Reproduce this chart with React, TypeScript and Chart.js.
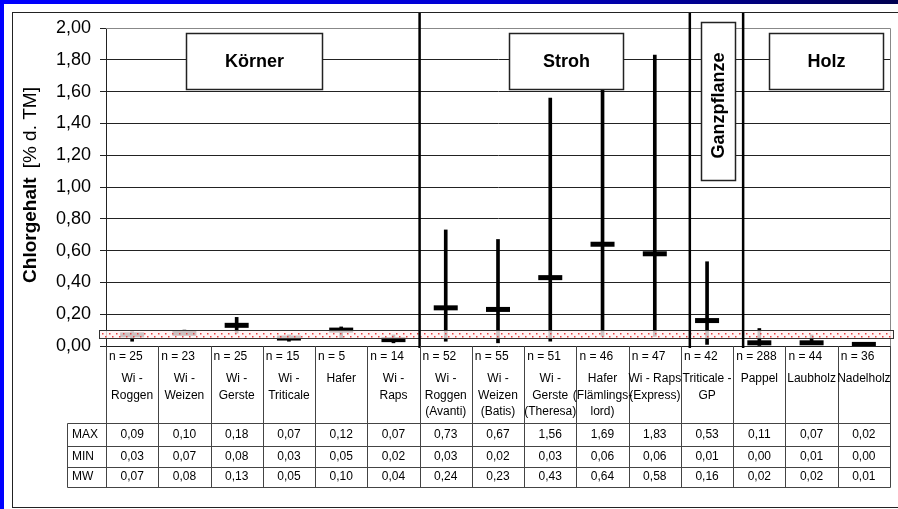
import React, { useEffect, useRef } from "react";
import { Chart, registerables } from "chart.js";

Chart.register(...registerables);

// ---------- data ----------
const categoryNames: string[][] = [
  ["Wi -", "Roggen"],
  ["Wi -", "Weizen"],
  ["Wi -", "Gerste"],
  ["Wi -", "Triticale"],
  ["Hafer"],
  ["Wi -", "Raps"],
  ["Wi -", "Roggen", "(Avanti)"],
  ["Wi -", "Weizen", "(Batis)"],
  ["Wi -", "Gerste", "(Theresa)"],
  ["Hafer", "(Flämlings-", "lord)"],
  ["Wi - Raps", "(Express)"],
  ["Triticale -", "GP"],
  ["Pappel"],
  ["Laubholz"],
  ["Nadelholz"],
];
const nValues = [25, 23, 25, 15, 5, 14, 52, 55, 51, 46, 47, 42, 288, 44, 36];
const maxValues = [0.09, 0.1, 0.18, 0.07, 0.12, 0.07, 0.73, 0.67, 1.56, 1.69, 1.83, 0.53, 0.11, 0.07, 0.02];
const minValues = [0.03, 0.07, 0.08, 0.03, 0.05, 0.02, 0.03, 0.02, 0.03, 0.06, 0.06, 0.01, 0.0, 0.01, 0.0];
const meanValues = [0.07, 0.08, 0.13, 0.05, 0.1, 0.04, 0.24, 0.23, 0.43, 0.64, 0.58, 0.16, 0.02, 0.02, 0.01];
const rowLabels = ["MAX", "MIN", "MW"];
const yMin = 0;
const yMax = 2;
const yStep = 0.2;
const bandLow = 0.05;
const bandHigh = 0.1;

// group boxes in data units (x = category index, y = value)
const groupLabels = ["Körner", "Stroh", "Ganzpflanze", "Holz"];
const groupX0 = [1.03, 7.21, 10.88, 12.18];
const groupX1 = [3.63, 9.39, 11.53, 14.36];
const groupY0 = [1.614, 1.614, 1.043, 1.614];
const groupY1 = [1.97, 1.97, 2.04, 1.97];
const groupVertical = [false, false, true, false];
const separatorsAt = [5.5, 10.67, 11.69];

const FONT = '"Liberation Sans", Arial, Helvetica, sans-serif';
const fmt = (v: number) => v.toFixed(2).replace(".", ",");

const decorPlugin = {
  id: "decor",
  beforeDraw(chart: any) {
    const ctx = chart.ctx as CanvasRenderingContext2D;
    const W = chart.width, H = chart.height;
    ctx.save();
    ctx.fillStyle = "#ffffff";
    ctx.fillRect(0, 0, W, H);
    const g = ctx.createLinearGradient(0, 0, W, 0);
    g.addColorStop(0, "#0000ff");
    g.addColorStop(0.55, "#0000d0");
    g.addColorStop(1, "#000050");
    ctx.fillStyle = g;
    ctx.fillRect(0, 0, W, 4);
    ctx.fillStyle = "#0000ff";
    ctx.fillRect(0, 0, 4, H);
    ctx.strokeStyle = "#222";
    ctx.lineWidth = 1;
    ctx.strokeRect(12.5, 12.5, W + 10, H - 14);
    ctx.restore();
  },
  afterDatasetsDraw(chart: any) {
    const ctx = chart.ctx as CanvasRenderingContext2D;
    const xs = chart.scales.x, ys = chart.scales.y;
    const area = chart.chartArea;
    ctx.save();

    // plot border top/right (gray)
    ctx.strokeStyle = "#888";
    ctx.lineWidth = 1;
    ctx.beginPath();
    ctx.moveTo(area.left, Math.round(area.top) + 0.5);
    ctx.lineTo(Math.round(area.right) + 0.5, Math.round(area.top) + 0.5);
    ctx.lineTo(Math.round(area.right) + 0.5, Math.round(area.bottom));
    ctx.stroke();

    // dotted band
    const by0 = Math.round(ys.getPixelForValue(bandHigh)) + 0.5;
    const by1 = Math.round(ys.getPixelForValue(bandLow)) + 0.5;
    const bx0 = Math.round(area.left) - 7 + 0.5;
    const bx1 = Math.round(area.right) + 3 + 0.5;
    ctx.fillStyle = "rgba(255,242,242,0.8)";
    ctx.fillRect(bx0, by0, bx1 - bx0, by1 - by0);
    ctx.fillStyle = "#e84040";
    let row = 0;
    for (let yy = by0 + 2; yy < by1 - 1.5; yy += 3) {
      for (let xx = bx0 + 2 + (row % 2) * 3.5; xx < bx1 - 1; xx += 7) {
        ctx.fillRect(Math.round(xx), Math.round(yy), 1.5, 1.5);
      }
      row++;
    }
    ctx.strokeStyle = "#333";
    ctx.lineWidth = 1;
    ctx.strokeRect(bx0, by0, bx1 - bx0, by1 - by0);

    // thick separators
    ctx.strokeStyle = "#000";
    ctx.lineWidth = 2.5;
    for (const s of separatorsAt) {
      const px = xs.getPixelForValue(s);
      ctx.beginPath();
      ctx.moveTo(px, 13);
      ctx.lineTo(px, area.bottom + 2);
      ctx.stroke();
    }

    // group boxes
    for (let i = 0; i < groupLabels.length; i++) {
      const x0 = Math.round(xs.getPixelForValue(groupX0[i])) + 0.5;
      const x1 = Math.round(xs.getPixelForValue(groupX1[i])) + 0.5;
      const y0 = Math.round(ys.getPixelForValue(groupY1[i])) + 0.5;
      const y1 = Math.round(ys.getPixelForValue(groupY0[i])) + 0.5;
      ctx.fillStyle = "#fff";
      ctx.fillRect(x0, y0, x1 - x0, y1 - y0);
      ctx.strokeStyle = "#222";
      ctx.lineWidth = 1.5;
      ctx.strokeRect(x0, y0, x1 - x0, y1 - y0);
      ctx.fillStyle = "#000";
      ctx.font = `bold 18px ${FONT}`;
      ctx.textAlign = "center";
      ctx.textBaseline = "middle";
      const cx = (x0 + x1) / 2, cy = (y0 + y1) / 2;
      if (groupVertical[i]) {
        ctx.save();
        ctx.translate(cx + 1, cy + 4);
        ctx.rotate(-Math.PI / 2);
        ctx.fillText(groupLabels[i], 0, 0);
        ctx.restore();
      } else {
        ctx.fillText(groupLabels[i], cx, cy + 1);
      }
    }
    ctx.restore();
  },
  afterDraw(chart: any) {
    const ctx = chart.ctx as CanvasRenderingContext2D;
    const xs = chart.scales.x, ys = chart.scales.y;
    ctx.save();

    // y title
    ctx.translate(31, 185);
    ctx.rotate(-Math.PI / 2);
    ctx.textBaseline = "middle";
    ctx.textAlign = "left";
    ctx.fillStyle = "#000";
    const t1 = "Chlorgehalt";
    const t2 = "[% d. TM]";
    ctx.font = `bold 19px ${FONT}`;
    const w1 = ctx.measureText(t1).width;
    ctx.font = `19px ${FONT}`;
    const w2 = ctx.measureText(t2).width;
    const gap = 9;
    const start = -(w1 + gap + w2) / 2;
    ctx.font = `bold 19px ${FONT}`;
    ctx.fillText(t1, start, 0);
    ctx.font = `19px ${FONT}`;
    ctx.fillText(t2, start + w1 + gap, 0);
    ctx.setTransform(1, 0, 0, 1, 0, 0);

    // table
    const top = Math.round(ys.getPixelForValue(0));
    const leftLab = 67;
    const right = Math.round(xs.getPixelForValue(14.5)) + 0.5;
    const hLines = [top + 77, top + 100, top + 121, top + 141];
    ctx.strokeStyle = "#444";
    ctx.lineWidth = 1;
    ctx.beginPath();
    for (const hy of hLines) {
      ctx.moveTo(leftLab + 0.5, hy + 0.5);
      ctx.lineTo(right, hy + 0.5);
    }
    ctx.moveTo(leftLab + 0.5, hLines[0] + 0.5);
    ctx.lineTo(leftLab + 0.5, hLines[3] + 0.5);
    for (let i = 0; i <= categoryNames.length; i++) {
      const bx = Math.round(xs.getPixelForValue(i - 0.5)) + 0.5;
      ctx.moveTo(bx, top);
      ctx.lineTo(bx, hLines[3] + 0.5);
    }
    ctx.stroke();

    ctx.fillStyle = "#000";
    ctx.font = `12px ${FONT}`;
    ctx.textBaseline = "middle";
    const nameYs = [top + 33, top + 50, top + 66];
    const valRows = [maxValues, minValues, meanValues];
    const valYs = [top + 89, top + 111, top + 131];
    for (let i = 0; i < categoryNames.length; i++) {
      const bl = xs.getPixelForValue(i - 0.5);
      const cx = xs.getPixelForValue(i);
      ctx.textAlign = "left";
      ctx.fillText(`n = ${nValues[i]}`, bl + 3, top + 11);
      ctx.textAlign = "center";
      categoryNames[i].forEach((line, k) => ctx.fillText(line, cx, nameYs[k]));
      valRows.forEach((arr, r) => ctx.fillText(fmt(arr[i]), cx, valYs[r]));
    }
    ctx.textAlign = "left";
    rowLabels.forEach((lab, r) => ctx.fillText(lab, leftLab + 5, valYs[r]));
    ctx.restore();
  },
};

export default function App() {
  const ref = useRef<HTMLCanvasElement | null>(null);
  useEffect(() => {
    if (!ref.current) return;
    const chart = new Chart(ref.current, {
      type: "bar",
      data: {
        datasets: [
          {
            type: "bar",
            label: "Min-Max",
            data: minValues.map((mn, i) => ({ x: i, y: [mn, maxValues[i]] })) as any,
            backgroundColor: "#000",
            borderWidth: 0,
            barThickness: 3,
            grouped: false,
            order: 2,
          } as any,
          {
            type: "scatter",
            label: "MW",
            data: meanValues.map((v, i) => ({ x: i, y: v })),
            pointStyle: "line",
            pointRadius: 12,
            pointBorderWidth: 5,
            borderColor: "#000",
            backgroundColor: "#000",
            order: 1,
          } as any,
        ],
      },
      options: {
        animation: false,
        responsive: false,
        events: [],
        layout: { autoPadding: false, padding: { left: 0, top: 28, right: 8, bottom: 163 } },
        plugins: { legend: { display: false }, tooltip: { enabled: false } },
        scales: {
          x: {
            type: "linear",
            min: -0.5,
            max: 14.5,
            display: false,
            offset: false,
          },
          y: {
            min: yMin,
            max: yMax,
            afterFit: (s: any) => {
              s.width = 106;
            },
            ticks: {
              stepSize: yStep,
              padding: 9,
              color: "#000",
              font: { family: FONT, size: 18 },
              callback: (v: any) => fmt(Number(v)),
            },
            grid: { color: "#222", lineWidth: 1, tickLength: 6, drawTicks: true },
            border: { display: true, color: "#222", width: 1 },
          },
        },
      } as any,
      plugins: [decorPlugin],
    });
    return () => chart.destroy();
  }, []);
  return (
    <div style={{ position: "absolute", left: 0, top: 0, width: 898, height: 509 }}>
      <canvas ref={ref} width={898} height={509} style={{ display: "block" }} />
    </div>
  );
}
